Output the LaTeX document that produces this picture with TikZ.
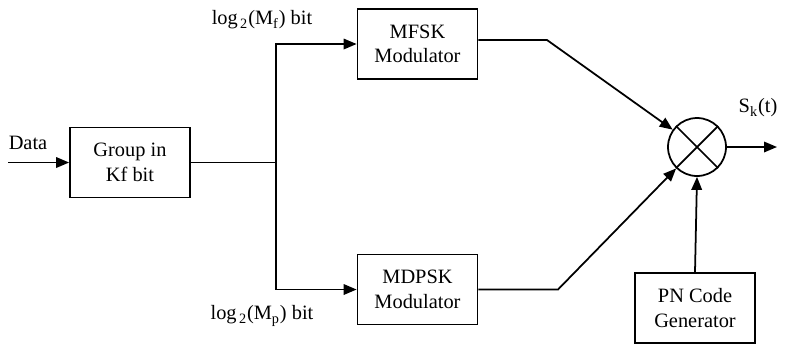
\documentclass[tikz,border=0pt]{standalone}
\usepackage{fontspec}
\setmainfont{Liberation Serif}
\usetikzlibrary{arrows.meta}
\tikzset{
  blk/.style={
    draw,
    rectangle,
    line width=1pt,
    minimum width=2.4cm,
    minimum height=1.4cm,
    align=center,
    font=\fontsize{11.6}{14}\selectfont
  },
  mixer/.style={draw,circle,line width=1pt,minimum size=1.16cm,inner sep=0pt},
  wire/.style={line width=1pt},
  arr/.style={wire,-{Triangle[length=2.6mm,width=2.1mm]}},
  lbl/.style={font=\fontsize{11.6}{14}\selectfont}
}

\begin{document}
\begin{tikzpicture}[x=0.02cm,y=-0.02cm]
  \useasboundingbox (0,0) rectangle (791,343);

  \node[blk] (grp) at (130,162.5) {Group in\\Kf bit};
  \node[blk] (mfsk) at (417.5,44) {MFSK\\Modulator};
  \node[blk] (mdpsk) at (417.5,289.5) {MDPSK\\Modulator};
  \node[blk] (pn) at (695,308) {PN Code\\Generator};
  \node[mixer] (mult) at (697,147) {};
  \draw[wire] (mult.north west) -- (mult.south east);
  \draw[wire] (mult.north east) -- (mult.south west);

  \coordinate (din) at (8,162.5);
  \coordinate (split) at (276,162.5);
  \coordinate (b1) at (547,40);
  \coordinate (b2) at (558,289.5);
  \coordinate (sout) at (777,147);

  \draw[arr] (din) -- (grp.west);
  \draw[wire] (grp.east) -- (split);
  \draw[arr] (split) |- (mfsk.west);
  \draw[arr] (split) |- (mdpsk.west);
  \draw[arr] (mfsk.east |- b1) -- (b1) -- (mult);
  \draw[arr] (mdpsk.east) -- (b2) -- (mult);
  \draw[arr] (pn.north) -- (mult.south);
  \draw[arr] (mult.east) -- (sout);

  \node[lbl] (ldata) at (28,143) {Data};
  \node[lbl] (lmf) at (262,20) {log\textsubscript{\,2}(M\textsubscript{f}) bit};
  \node[lbl] (lmp) at (262,316) {log\textsubscript{\,2}(M\textsubscript{p}) bit};
  \node[lbl] (lsk) at (758,108) {S\textsubscript{k}(t)};
\end{tikzpicture}
\end{document}
